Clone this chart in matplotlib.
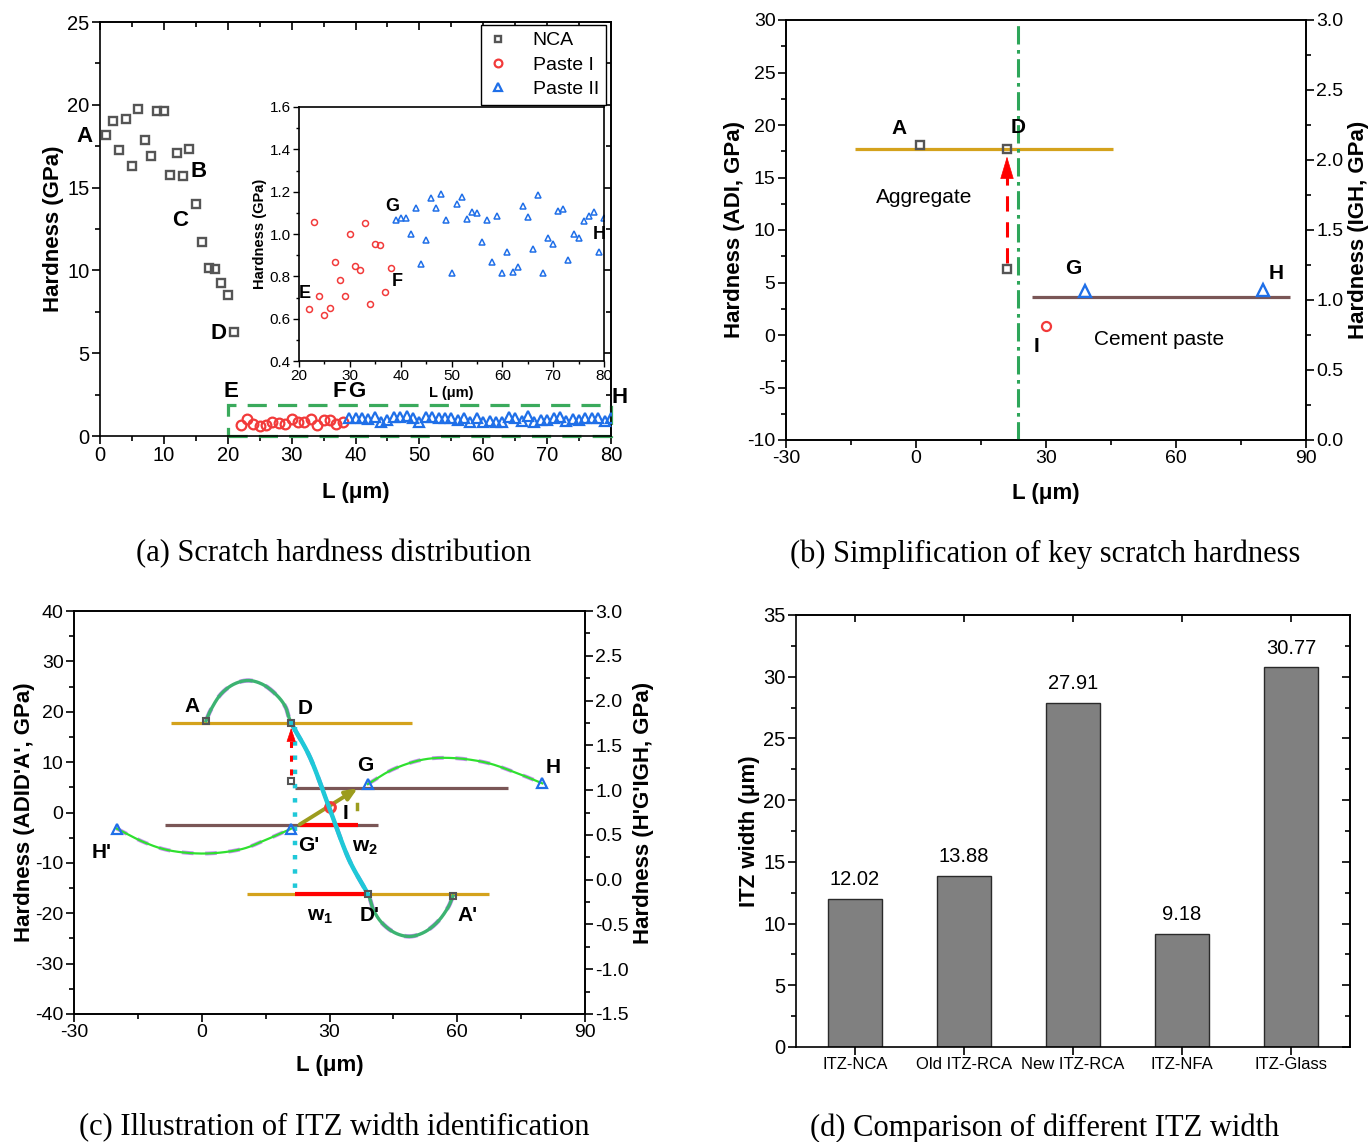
import numpy as np
import matplotlib
matplotlib.use("Agg")
import matplotlib.pyplot as plt
from matplotlib.patches import Rectangle
from matplotlib.ticker import MultipleLocator, FixedLocator, FormatStrFormatter

plt.rcParams['font.family'] = ['Liberation Sans', 'DejaVu Sans']
plt.rcParams['mathtext.fontset'] = 'custom'
plt.rcParams['mathtext.rm'] = 'Liberation Sans'
plt.rcParams['mathtext.bf'] = 'Liberation Sans:bold'
plt.rcParams['axes.linewidth'] = 1.2
plt.rcParams['axes.unicode_minus'] = False

# ---------------- data: (a) scratch hardness along the scratch ----------------
nca_L = np.arange(1, 22)
nca_H = [18.18, 19.04, 17.27, 19.12, 16.32, 19.77, 17.86, 16.89, 19.60, 19.64,
         15.76, 17.07, 15.72, 17.33, 14.01, 11.70, 10.14, 10.08, 9.26, 8.53, 6.26]
paste1_L = np.arange(22, 39)
paste1_H = [0.646, 1.056, 0.709, 0.618, 0.651, 0.868, 0.783, 0.709, 0.998, 0.851,
            0.829, 1.050, 0.671, 0.953, 0.950, 0.726, 0.840]
paste2_L = np.arange(39, 81)
paste2_H = [1.067, 1.076, 1.076, 0.998, 1.122, 0.860, 0.972, 1.168, 1.121, 1.187,
            1.065, 0.816, 1.141, 1.176, 1.073, 1.106, 1.100, 0.960, 1.065, 0.870,
            1.084, 0.816, 0.914, 0.821, 0.842, 1.130, 1.080, 0.930, 1.182, 0.816,
            0.979, 0.955, 1.110, 1.119, 0.878, 0.998, 0.980, 1.061, 1.087, 1.106,
            0.914, 1.075]

# ---------------- data: (b) simplified key hardness ----------------
agg_L = [1, 21]            # A, D (aggregate side, left axis)
agg_H = [18.1, 17.7]
d_raw_L = [21]             # original D before simplification
d_raw_H = [6.26]
paste_key_L = [39, 80]     # G, H (paste side, right axis)
paste_key_H = [1.067, 1.075]
i_L = [30]                 # I (right axis)
i_H = [0.815]
agg_level = 17.7
agg_span_b = [-14.1, 45.5]
paste_level_b = 1.024
paste_span_b = [26.8, 86.3]
itz_boundary = 23.5

# ---------------- data: (c) ITZ width identification ----------------
adi_L = [1, 21, 39, 59]                  # A, D, D', A' (left axis)
adi_H = [18.2, 17.8, -16.2, -16.6]
d_raw_c_H = [6.3]
hgi_L = [-20, 21, 39, 80]                # H', G', G, H (right axis)
hgi_H = [0.561, 0.569, 1.067, 1.075]
# waypoints along the ADID'A' curve (left axis)
curve_adi_L = [1, 2.2, 4.5, 7.6, 11.1, 14.6, 17.7, 19.7, 21, 25.5, 30, 34.5,
               39, 40.3, 42.3, 45.4, 48.9, 52.4, 55.5, 57.8, 59]
curve_adi_H = [18.2, 20.5, 23.5, 25.5, 26.2, 25.3, 23.2, 20.9, 17.8, 10.8, 0.8, -9.2,
               -16.2, -19.3, -21.9, -23.9, -24.6, -23.7, -21.6, -18.9, -16.6]
# waypoints along the H'G' and GH curves (right axis)
curve_hg1_L = [-20, -13.4, -7.2, 1, 9.2, 15.4, 21]
curve_hg1_H = [0.571, 0.415, 0.323, 0.292, 0.339, 0.452, 0.569]
curve_hg2_L = [39, 45, 52, 59, 66.8, 73.8, 80]
curve_hg2_H = [1.067, 1.234, 1.341, 1.358, 1.307, 1.194, 1.075]
agg_level_c = [17.8, -16.2]
agg_span_c = [[-7.3, 49.3], [10.7, 67.4]]
paste_level_c = [1.02, 0.616]
paste_span_c = [[22.0, 72.0], [-8.7, 41.4]]
w1_span = [22.0, 38.0]
w2_span = [23.0, 36.6]

# ---------------- data: (d) ITZ widths ----------------
itz_names = ['ITZ-NCA', 'Old ITZ-RCA', 'New ITZ-RCA', 'ITZ-NFA', 'ITZ-Glass']
itz_width = [12.02, 13.88, 27.91, 9.18, 30.77]

# ---------------- styling ----------------
GRAY = '#555555'
RED = '#f23a3a'
BLUE = '#1f6fe8'
GOLD = '#d4a21c'
BROWN = '#7a5656'
GREEN_DD = '#2ea65a'
SEA = '#3cb371'
LIME = '#2fe02f'
LILAC = '#c58cf0'
CYAN = '#1fc8d8'
OLIVE = '#9c9c1e'

W, H = 1368, 1142
fig = plt.figure(figsize=(W / 100, H / 100), dpi=100)


def rect(l, t, r, b):
    return [l / W, 1 - b / H, (r - l) / W, (b - t) / H]


def base_ticks(ax, size=14.5):
    ax.tick_params(which='both', direction='out', labelsize=size, width=1.2, pad=1.5)
    ax.tick_params(which='major', length=6)
    ax.tick_params(which='minor', length=3.5)


def mirror(ax, xmaj, xmin, ymaj, ymin, top=True, right=True):
    if top:
        sx = ax.secondary_xaxis('top')
        sx.xaxis.set_major_locator(MultipleLocator(xmaj) if xmaj else FixedLocator([]))
        if xmin:
            sx.xaxis.set_minor_locator(MultipleLocator(xmin))
        sx.tick_params(which='both', direction='in', labeltop=False, width=1.2)
        sx.tick_params(which='major', length=6)
        sx.tick_params(which='minor', length=3.5)
    if right:
        sy = ax.secondary_yaxis('right')
        sy.yaxis.set_major_locator(MultipleLocator(ymaj))
        sy.yaxis.set_minor_locator(MultipleLocator(ymin))
        sy.tick_params(which='both', direction='in', labelright=False, width=1.2)
        sy.tick_params(which='major', length=6)
        sy.tick_params(which='minor', length=3.5)
        return sy


def smooth_path(px, py, n=24):
    p = np.column_stack([px, py]).astype(float)
    p = np.vstack([2 * p[0] - p[1], p, 2 * p[-1] - p[-2]])
    t = np.linspace(0, 1, n, endpoint=False)[:, None]
    out = []
    for i in range(1, len(p) - 2):
        p0, p1, p2, p3 = p[i - 1], p[i], p[i + 1], p[i + 2]
        out.append(0.5 * (2 * p1 + (-p0 + p2) * t + (2 * p0 - 5 * p1 + 4 * p2 - p3) * t ** 2
                          + (-p0 + 3 * p1 - 3 * p2 + p3) * t ** 3))
    out.append(p[-2][None, :])
    out = np.vstack(out)
    return out[:, 0], out[:, 1]


LBL = dict(fontsize=16, fontweight='bold')
PT = dict(fontweight='bold', ha='center', va='center')

# =============================== (a) ===============================
axa = fig.add_axes(rect(100, 22, 611, 436))
axa.plot(nca_L, nca_H, 's', mfc='none', mec=GRAY, ms=5.5, mew=1.7, label='NCA', zorder=3)
axa.plot(paste1_L, paste1_H, 'o', mfc='none', mec=RED, ms=7, mew=1.6, label='Paste I', zorder=3)
axa.plot(paste2_L, paste2_H, '^', mfc='none', mec=BLUE, ms=7.5, mew=1.6, label='Paste II', zorder=3)
axa.add_patch(Rectangle((20, 0), 60, 1.87, fill=False, ec='#3aaa5c', lw=2.3,
                        ls=(0, (6, 3.5)), clip_on=False, zorder=2))
axa.set_xlim(0, 80)
axa.set_ylim(0, 25)
axa.xaxis.set_major_locator(MultipleLocator(10))
axa.xaxis.set_minor_locator(MultipleLocator(5))
axa.yaxis.set_major_locator(MultipleLocator(5))
axa.yaxis.set_minor_locator(MultipleLocator(2.5))
base_ticks(axa)
mirror(axa, 10, 5, 5, 2.5)
axa.set_xlabel('L (\u03bcm)', labelpad=12, **LBL)
axa.set_ylabel('Hardness (GPa)', labelpad=2.5, **LBL)
for s, x, y in [('A', -2.5, 18.1), ('B', 15.5, 16.0), ('C', 12.5, 13.0), ('D', 18.6, 6.2),
                ('E', 20.5, 2.7), ('F', 37.4, 2.7), ('G', 40.2, 2.7), ('H', 81.4, 2.3)]:
    axa.text(x, y, s, fontsize=16, clip_on=False, **PT)
leg = axa.legend(loc='upper right', bbox_to_anchor=(0.99, 0.993), borderaxespad=0,
                 fontsize=14, frameon=True, fancybox=False, edgecolor='black',
                 framealpha=1, handlelength=1.0, handletextpad=1.3, labelspacing=0.35,
                 borderpad=0.35, markerscale=0.8)
leg.get_frame().set_linewidth(1.0)

axi = fig.add_axes(rect(299, 107, 604, 361))
axi.plot(paste1_L, paste1_H, 'o', mfc='none', mec=RED, ms=4.3, mew=1.1)
axi.plot(paste2_L, paste2_H, '^', mfc='none', mec=BLUE, ms=4.8, mew=1.1)
axi.set_xlim(20, 80)
axi.set_ylim(0.4, 1.6)
axi.xaxis.set_major_locator(MultipleLocator(10))
axi.xaxis.set_minor_locator(MultipleLocator(5))
axi.yaxis.set_major_locator(MultipleLocator(0.2))
axi.yaxis.set_minor_locator(MultipleLocator(0.1))
axi.tick_params(which='both', direction='out', labelsize=11, width=1)
axi.tick_params(which='major', length=4, pad=2)
axi.tick_params(which='minor', length=2.5)
axi.set_xlabel('L (\u03bcm)', fontsize=10.5, fontweight='bold', labelpad=2)
axi.set_ylabel('Hardness (GPa)', fontsize=10.5, fontweight='bold', labelpad=2)
for s, x, y in [('E', 21.2, 0.72), ('G', 38.4, 1.13), ('F', 39.4, 0.775), ('H', 79.0, 1.0)]:
    axi.text(x, y, s, fontsize=13, clip_on=False, **PT)

# =============================== (b) ===============================
axb = fig.add_axes(rect(786, 20, 1306, 440))
axb.set_xlim(-30, 90)
axb.set_ylim(-10, 30)
axb.hlines(agg_level, *agg_span_b, color=GOLD, lw=2.3, zorder=2)
axb.plot(agg_L, agg_H, 's', mfc='none', mec=GRAY, ms=6, mew=1.7, zorder=4)
axb.plot(d_raw_L, d_raw_H, 's', mfc='none', mec=GRAY, ms=6, mew=1.7, zorder=4)
axb.axvline(itz_boundary, color=GREEN_DD, lw=2.2, ls=(0, (6, 1.8, 1.2, 1.8)), zorder=3)
axb.plot([d_raw_L[0]] * 2, [d_raw_H[0] + 0.6, 15.5], color='red', lw=2.2,
         ls=(0, (5, 3.5)), zorder=3)
axb.annotate('', xy=(d_raw_L[0], 17.0), xytext=(d_raw_L[0], 14.9),
             arrowprops=dict(arrowstyle='-|>,head_length=1.5,head_width=0.45',
                             color='red', lw=0.5, shrinkA=0, shrinkB=0), zorder=3)
axb.xaxis.set_major_locator(MultipleLocator(30))
axb.xaxis.set_minor_locator(MultipleLocator(15))
axb.yaxis.set_major_locator(MultipleLocator(5))
axb.yaxis.set_minor_locator(MultipleLocator(2.5))
base_ticks(axb, 14)
axb.set_xlabel('L (\u03bcm)', labelpad=11, **LBL)
axb.set_ylabel('Hardness (ADI, GPa)', labelpad=1.5, **LBL)
axb2 = axb.twinx()
axb2.set_ylim(0, 3)
axb2.hlines(paste_level_b, *paste_span_b, color=BROWN, lw=2.3, zorder=2)
axb2.plot(paste_key_L, paste_key_H, '^', mfc='none', mec=BLUE, ms=8, mew=1.7, zorder=4)
axb2.plot(i_L, i_H, 'o', mfc='none', mec=RED, ms=6.5, mew=1.6, zorder=4)
axb2.yaxis.set_major_locator(MultipleLocator(0.5))
axb2.yaxis.set_minor_locator(MultipleLocator(0.25))
base_ticks(axb2, 14)
axb2.yaxis.set_major_formatter(FormatStrFormatter('%.1f'))
axb2.set_ylabel('Hardness (IGH, GPa)', labelpad=3, **LBL)
for s, x, y in [('A', -4.0, 19.7), ('D', 23.6, 19.8), ('G', 36.2, 6.3), ('H', 83.0, 5.9),
                ('I', 27.7, -1.1)]:
    axb.text(x, y, s, fontsize=15, **PT)
axb.text(1.85, 13.1, 'Aggregate', fontsize=15, ha='center', va='center')
axb.text(56.2, -0.4, 'Cement paste', fontsize=15, ha='center', va='center')

# =============================== (c) ===============================
axc = fig.add_axes(rect(74, 611, 585, 1014))
axc.set_xlim(-30, 90)
axc.set_ylim(-40, 40)
axc2 = axc.twinx()
axc2.set_ylim(-1.5, 3.0)
axc.set_zorder(2)
axc.patch.set_visible(False)

# horizontal reference levels
for lvl, span in zip(agg_level_c, agg_span_c):
    axc.hlines(lvl, *span, color=GOLD, lw=2.3, zorder=2)
for lvl, span in zip(paste_level_c, paste_span_c):
    axc2.hlines(lvl, *span, color=BROWN, lw=2.3, zorder=2)

# curves
cx, cy = smooth_path(curve_adi_L, curve_adi_H)
axc.plot(cx, cy, color=LILAC, lw=3.2, ls=(0, (3, 3)), zorder=3)
axc.plot(cx, cy, color=SEA, lw=2.4, zorder=3)
m = (cx >= 21) & (cx <= 39)
axc.plot(cx[m], cy[m], color=CYAN, lw=3.2, zorder=6)
for hx, hy in [(curve_hg1_L, curve_hg1_H), (curve_hg2_L, curve_hg2_H)]:
    sx_, sy_ = smooth_path(hx, hy)
    axc2.plot(sx_, sy_, color=LILAC, lw=2.8, ls=(0, (3, 3)), zorder=3)
    axc2.plot(sx_, sy_, color=LIME, lw=1.6, zorder=3)

# ITZ construction lines
axc.plot([22.0, 22.0], [17.0, -15.3], color=CYAN, lw=3.2, ls=(0, (1, 2.2)), zorder=4)
axc.plot([21, 21], [7.4, 14.6], color='red', lw=2.2, ls=(0, (2, 2.5)), zorder=4)
axc.annotate('', xy=(21, 16.8), xytext=(21, 14.4),
             arrowprops=dict(arrowstyle='-|>,head_length=0.9,head_width=0.3',
                             color='red', lw=0.5, shrinkA=0, shrinkB=0), zorder=4)
axc.hlines(agg_level_c[1], *w1_span, color='red', lw=3, zorder=4)
axc2.hlines(paste_level_c[1], *w2_span, color='red', lw=3, zorder=4)
axc2.annotate('', xy=(w2_span[1], paste_level_c[0]), xytext=(w2_span[0], paste_level_c[1]),
              arrowprops=dict(arrowstyle='-|>,head_length=0.7,head_width=0.3',
                              color=OLIVE, lw=2.8, shrinkA=0, shrinkB=0), zorder=5)
axc2.plot([36.4, 36.4], [0.79, 0.84], color=OLIVE, lw=2.5, zorder=5)

# key points
axc.plot(adi_L, adi_H, 's', mfc='none', mec=GRAY, ms=5, mew=1.5, zorder=7)
axc.plot([21], d_raw_c_H, 's', mfc='none', mec=GRAY, ms=5, mew=1.5, zorder=7)
axc.plot(hgi_L, [(v + 1.5) / 0.05625 - 40 for v in hgi_H], '^', mfc='none', mec=BLUE,
         ms=7, mew=1.6, zorder=7)
axc.plot(i_L, [(i_H[0] + 1.5) / 0.05625 - 40], 'o', mfc='none', mec=RED, ms=7, mew=2.2,
         zorder=5)

axc.xaxis.set_major_locator(MultipleLocator(30))
axc.xaxis.set_minor_locator(MultipleLocator(15))
axc.yaxis.set_major_locator(MultipleLocator(10))
axc.yaxis.set_minor_locator(MultipleLocator(5))
base_ticks(axc, 14)
axc2.yaxis.set_major_locator(MultipleLocator(0.5))
axc2.yaxis.set_minor_locator(MultipleLocator(0.25))
base_ticks(axc2, 14)
axc2.yaxis.set_major_formatter(FormatStrFormatter('%.1f'))
axc.set_xlabel('L (\u03bcm)', labelpad=10, **LBL)
axc.set_ylabel("Hardness (ADID'A', GPa)", labelpad=0.5, **LBL)
axc2.set_ylabel("Hardness (H'G'IGH, GPa)", labelpad=3, **LBL)
for s, x, y in [('A', -2.3, 21.0), ('D', 24.2, 20.7), ('G', 38.5, 9.4), ('H', 82.6, 8.9),
                ('I', 33.8, -0.1), ("H'", -23.5, -7.9), ("G'", 25.1, -6.6),
                ("D'", 39.5, -20.5), ("A'", 62.4, -20.4)]:
    axc.text(x, y, s, fontsize=15, zorder=8, **PT)
axc.text(38.3, -7.0, r'$\mathbf{w}_{\mathbf{2}}$', fontsize=15, ha='center', va='center')
axc.text(27.7, -20.7, r'$\mathbf{w}_{\mathbf{1}}$', fontsize=15, ha='center', va='center')

# =============================== (d) ===============================
axd = fig.add_axes(rect(796, 615, 1350, 1047))
pos = np.arange(1, len(itz_names) + 1)
bars = axd.bar(pos, itz_width, width=0.5, color='#808080', edgecolor='#2a2a2a', lw=1.0)
for b, v in zip(bars, itz_width):
    axd.text(b.get_x() + b.get_width() / 2, v + 0.75, f'{v:.2f}', ha='center', va='bottom',
             fontsize=14.5)
axd.set_xlim(0.46, 5.54)
axd.set_ylim(0, 35)
axd.set_xticks(pos)
axd.set_xticklabels(itz_names)
axd.yaxis.set_major_locator(MultipleLocator(5))
axd.yaxis.set_minor_locator(MultipleLocator(2.5))
base_ticks(axd, 14.5)
axd.tick_params(axis='x', labelsize=12)
sxd = axd.secondary_xaxis('top')
sxd.set_xticks(pos)
sxd.tick_params(direction='in', labeltop=False, length=5, width=1.2)
mirror(axd, None, None, 5, 2.5, top=False, right=True)
axd.set_ylabel('ITZ width (\u03bcm)', labelpad=2.5, **LBL)

# =============================== captions ===============================
cap = dict(fontsize=22, family=['Liberation Serif', 'DejaVu Serif'], ha='center', va='center')
fig.text(334 / W, 1 - 554 / H, '(a) Scratch hardness distribution', **cap)
fig.text(1045 / W, 1 - 554 / H, '(b) Simplification of key scratch hardness', **cap)
fig.text(334 / W, 1 - 1128 / H, '(c) Illustration of ITZ width identification', **cap)
fig.text(1045 / W, 1 - 1128 / H, '(d) Comparison of different ITZ width', **cap)

fig.savefig('out.png', dpi=100)
